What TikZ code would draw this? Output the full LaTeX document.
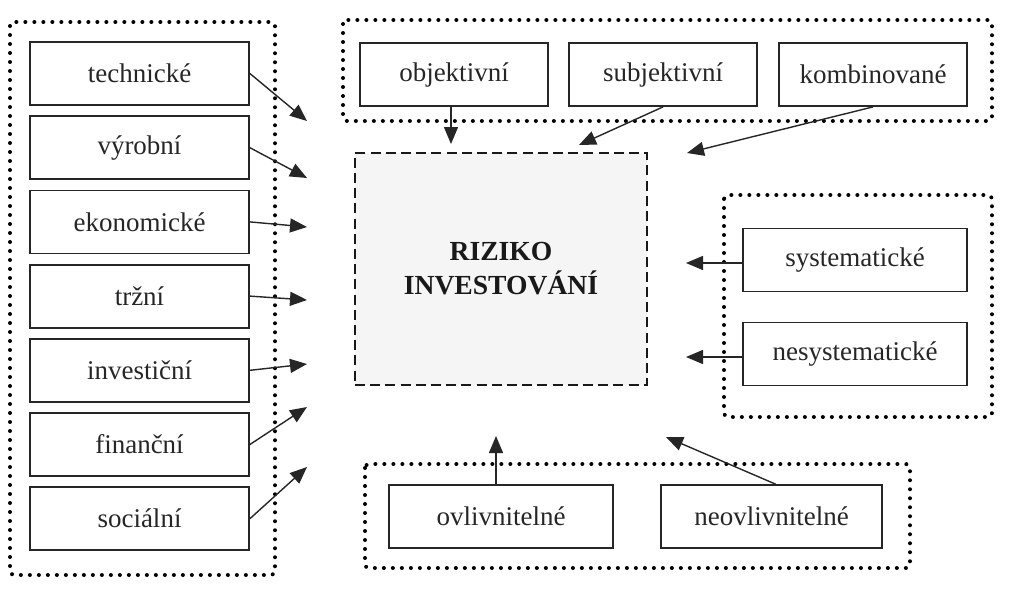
\documentclass[tikz,border=0pt]{standalone}
\usepackage{fontspec}
\setmainfont{Liberation Serif}
\usetikzlibrary{arrows.meta}
\tikzstyle{every picture}=[x=0.5pt, y=-0.5pt, >={Triangle[length=8.5pt,width=7pt]}]
\tikzstyle{box}=[draw=black!85, line width=0.9pt, minimum height=31.5pt, inner sep=0pt,%
	text=black!85, font=\fontsize{13.5}{16}\selectfont]
\tikzstyle{core}=[draw=black!90, line width=1.4pt, dash pattern=on 5pt off 2.6pt, fill=black!4,%
	minimum width=146pt, minimum height=116pt, align=center, text=black!90,%
	font=\fontsize{13.8}{17}\selectfont\bfseries]
\tikzstyle{frame}=[draw=black, line width=2pt, dash pattern=on 0pt off 4.5pt, line cap=round,%
	rounded corners=2pt]
\tikzstyle{link}=[->, draw=black!85, line width=0.7pt]

\begin{document}
\begin{tikzpicture}
	\useasboundingbox (0,0) rectangle (1009,601);
	% groups
	\draw[frame] (10,22) rectangle (275,575);
	\draw[frame] (343,20) rectangle (992,121);
	\draw[frame] (724,195) rectangle (992,417);
	\draw[frame] (365,464) rectangle (910,568);
	% centre
	\node[core] (risk) at (501,269) {RIZIKO\\INVESTOVÁNÍ};
	% left column
	\foreach \txt [count=\i] in {technické,výrobní,ekonomické,tržní,investiční,finanční,sociální}
		\node[box, minimum width=109.5pt] (f\i) at (139.5,{73.5+74.2*(\i-1)}) {\txt};
	\foreach \i/\y in {1/121,2/178,3/227,4/300,5/364,6/407,7/467}
		\coordinate (t\i) at (307,\y);
	\foreach \i in {1,...,7}
		\draw[link] (f\i.east) -- (t\i);
	% top row
	\node[box, minimum width=94pt] (obj) at (454,74.5) {objektivní};
	\node[box, minimum width=94pt] (subj) at (663,74.5) {subjektivní};
	\node[box, minimum width=94pt] (komb) at (873,74.5) {kombinované};
	\coordinate (tobj) at (451,144);
	\coordinate (tsubj) at (579,145);
	\coordinate (tkomb) at (687,153);
	\draw[link] (obj.south -| tobj) -- (tobj);
	\draw[link] (subj.south) -- (tsubj);
	\draw[link] (komb.south) -- (tkomb);
	% right group
	\node[box, minimum width=112pt] (sys) at (855,260) {systematické};
	\node[box, minimum width=112pt] (nesys) at (855,354) {nesystematické};
	\coordinate (tsys) at (686,263);
	\coordinate (tnesys) at (686,357);
	\draw[link] (sys.west |- tsys) -- (tsys);
	\draw[link] (nesys.west |- tnesys) -- (tnesys);
	% bottom group
	\node[box, minimum width=112pt] (ovl) at (501,516.5) {ovlivnitelné};
	\node[box, minimum width=110.5pt] (neovl) at (771.5,516.5) {neovlivnitelné};
	\coordinate (tovl) at (496,436);
	\coordinate (tneovl) at (666,437);
	\draw[link] (ovl.north -| tovl) -- (tovl);
	\draw[link] ([xshift=2pt]neovl.north) -- (tneovl);
\end{tikzpicture}
\end{document}
